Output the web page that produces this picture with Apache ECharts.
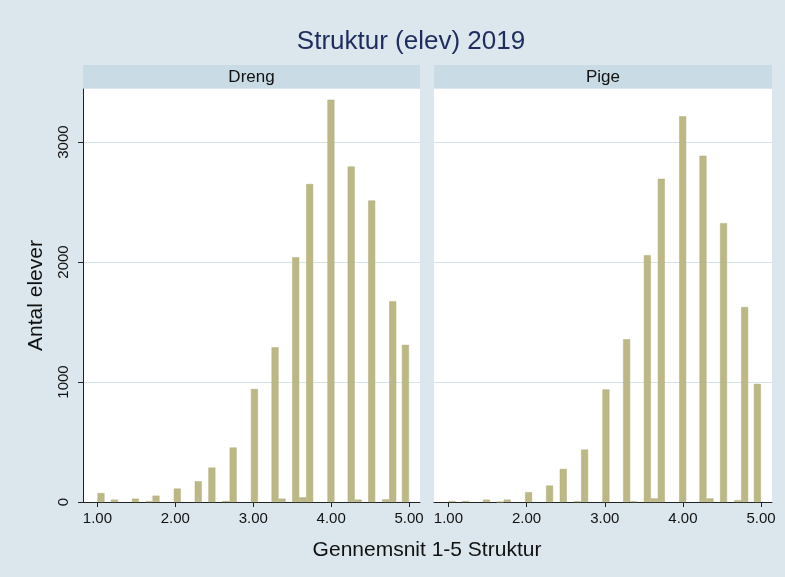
<!DOCTYPE html>
<html>
<head>
<meta charset="utf-8">
<script src="https://cdn.jsdelivr.net/npm/echarts@6/dist/echarts.min.js"></script>
<style>
  html, body { margin: 0; padding: 0; background: #dce7ed; }
  #chart { width: 785px; height: 577px; }
</style>
</head>
<body>
<div id="chart"></div>
<script>
// Histogram bins (centre of each bar) and counts per panel
const binCenters = [1.046, 1.218, 1.487, 1.662, 1.752, 2.025, 2.294, 2.469, 2.648, 2.742,
  3.015, 3.28, 3.37, 3.545, 3.635, 3.724, 3.997, 4.257, 4.347, 4.52, 4.70, 4.79, 4.953];
const dreng = [75, 20, 28, 5, 53, 112, 173, 287, 8, 454,
  942, 1290, 28, 2040, 39, 2650, 3353, 2796, 20, 2513, 22, 1674, 1310];
const pige = [8, 8, 20, 0, 20, 82, 137, 276, 5, 437,
  938, 1356, 5, 2057, 30, 2694, 3214, 2886, 30, 2324, 15, 1625, 985];
const panels = ['Dreng', 'Pige'];
const xTicks = [1, 2, 3, 4, 5];
const yTicks = [0, 1000, 2000, 3000];

const font = '"Liberation Sans", Arial, sans-serif';
const barColor = '#bcb886';
const gridColor = '#d5e4eb';

const grids = [
  { left: 83, top: 89, width: 337, bottom: 75 },
  { left: 434, top: 89, width: 338, bottom: 75 },
];

const xAxes = grids.map((g, i) => ({
  type: 'value',
  gridIndex: i,
  min: 0.815,
  max: 5.14,
  splitLine: { show: false },
  axisLine: { lineStyle: { color: '#222', width: 1 } },
  axisTick: { customValues: xTicks, length: 5, lineStyle: { color: '#222' } },
  axisLabel: {
    customValues: xTicks,
    formatter: (v) => v.toFixed(2),
    color: '#111', fontSize: 15, fontFamily: font, margin: 9,
  },
}));

const yAxes = grids.map((g, i) => ({
  type: 'value',
  gridIndex: i,
  min: 0,
  max: 3442,
  name: i === 0 ? 'Antal elever' : '',
  nameLocation: 'middle',
  nameGap: 36,
  nameTextStyle: { color: '#111', fontSize: 21, fontFamily: font },
  splitLine: { show: true, lineStyle: { color: gridColor, width: 1 } },
  axisLine: { show: i === 0, lineStyle: { color: '#222' } },
  axisTick: { show: i === 0, customValues: yTicks, length: 5, lineStyle: { color: '#222' } },
  axisLabel: {
    show: i === 0,
    customValues: yTicks,
    formatter: (v) => String(v),
    rotate: 90,
    color: '#111', fontSize: 15, fontFamily: font, margin: 12,
  },
}));

const series = [dreng, pige].map((vals, i) => ({
  name: panels[i],
  type: 'bar',
  xAxisIndex: i,
  yAxisIndex: i,
  barWidth: 7,
  itemStyle: { color: barColor, borderColor: '#b3af7b', borderWidth: 0.5 },
  data: binCenters.map((x, j) => [x, vals[j]]),
}));

// facet strips and shared x title
const strips = grids.map((g, i) => ({
  type: 'group',
  children: [
    { type: 'rect', shape: { x: g.left, y: 65, width: g.width, height: 23 }, style: { fill: '#c9dbe5' } },
    {
      type: 'text', x: g.left + g.width / 2, y: 77,
      style: { text: panels[i], fill: '#111', font: `17px ${font}`, textAlign: 'center', textVerticalAlign: 'middle' },
    },
  ],
}));

const chart = echarts.init(document.getElementById('chart'), null, { renderer: 'canvas' });
chart.setOption({
  backgroundColor: '#dce7ed',
  animation: false,
  title: {
    text: 'Struktur (elev) 2019',
    left: 411,
    top: 29,
    padding: 0,
    textAlign: 'center',
    textStyle: { color: '#1f2c5e', fontSize: 26, fontWeight: 'normal', fontFamily: font },
  },
  grid: grids.map((g) => ({ ...g, show: true, backgroundColor: '#fff', borderWidth: 0 })),
  xAxis: xAxes,
  yAxis: yAxes,
  series,
  graphic: [
    ...strips,
    {
      type: 'text', x: 427, y: 550,
      style: { text: 'Gennemsnit 1-5 Struktur', fill: '#111', font: `21px ${font}`, textAlign: 'center', textVerticalAlign: 'middle' },
    },
  ],
});

window.addEventListener('resize', () => chart.resize());
</script>
</body>
</html>
